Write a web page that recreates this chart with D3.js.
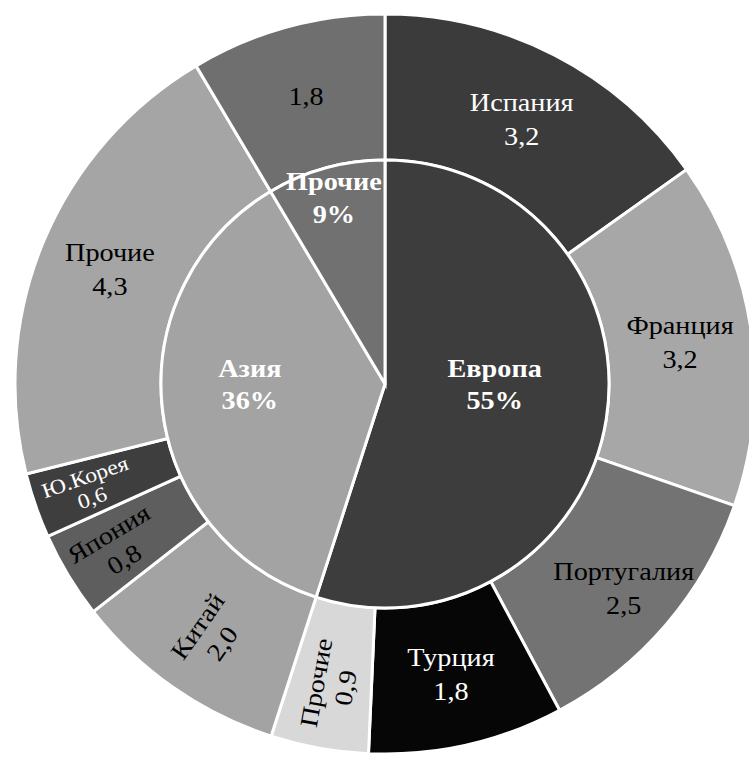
<!DOCTYPE html>
<html>
<head>
<meta charset="utf-8">
<script src="https://cdn.jsdelivr.net/npm/d3@7"></script>
<style>
  html, body { margin: 0; padding: 0; background: #ffffff; }
  svg { display: block; }
</style>
</head>
<body>
<svg id="chart" width="749" height="758"></svg>
<script>
// Regions (inner ring) and the countries that make them up (outer ring)
const regions = ["Европа", "Азия", "Прочие"];
const regionColors = ["#3d3d3d", "#a3a3a3", "#717171"];

const countries = ["Испания", "Франция", "Португалия", "Турция", "Прочие",
                   "Китай", "Япония", "Ю.Корея", "Прочие", ""];
const countryRegion = ["Европа", "Европа", "Европа", "Европа", "Европа",
                       "Азия", "Азия", "Азия", "Азия", "Прочие"];
const countryValues = [3.2, 3.2, 2.5, 1.8, 0.9, 2.0, 0.8, 0.6, 4.3, 1.8];
const countryColors = ["#3b3b3b", "#a7a7a7", "#737373", "#060606", "#d8d8d8",
                       "#a3a3a3", "#5e5e5e", "#3e3e3e", "#a5a5a5", "#6f6f6f"];

const width = 749, height = 758;
const cx = 385, cy = 384;
const rInner = 224, rOuter = 370;
const font = "Liberation Serif";
const stretch = 1.13;   // labels are set in a slightly widened face

const svg = d3.select("#chart");
const g = svg.append("g").attr("transform", `translate(${cx},${cy})`);

const regionTotals = regions.map(r =>
  d3.sum(countryValues.filter((v, i) => countryRegion[i] === r)));
const grandTotal = d3.sum(regionTotals);

const pie = d3.pie().sort(null).value(d => d.value).startAngle(0).endAngle(2 * Math.PI);

const innerData = pie(regions.map((name, i) => ({
  name, value: regionTotals[i], color: regionColors[i]
})));
const outerData = pie(countries.map((name, i) => ({
  name, value: countryValues[i], color: countryColors[i]
})));

const arcInner = d3.arc().innerRadius(0).outerRadius(rInner);
const arcOuter = d3.arc().innerRadius(rInner).outerRadius(rOuter);

g.selectAll("path.outer").data(outerData).join("path")
  .attr("class", "outer")
  .attr("d", arcOuter)
  .attr("fill", d => d.data.color)
  .attr("stroke", "#ffffff")
  .attr("stroke-width", 3);

g.selectAll("path.inner").data(innerData).join("path")
  .attr("class", "inner")
  .attr("d", arcInner)
  .attr("fill", d => d.data.color)
  .attr("stroke", "#ffffff")
  .attr("stroke-width", 3);

const fmt = v => v.toFixed(1).replace(".", ",");
const lum = c => d3.hsl(c).l;

// Two-line (or one-line) label centred on the point (x, y)
function label(lines, x, y, opts) {
  const lh = opts.size * (opts.lh || 1.3);
  const t = g.append("text")
    .attr("transform", `translate(${x},${y}) rotate(${opts.rotate || 0}) scale(${stretch},1)`)
    .attr("text-anchor", "middle")
    .attr("font-family", font)
    .attr("font-size", opts.size)
    .attr("font-weight", opts.weight || "normal")
    .attr("fill", opts.fill);
  lines.forEach((s, i) => {
    t.append("tspan")
      .attr("x", 0)
      .attr("y", (i - (lines.length - 1) / 2) * lh)
      .attr("dy", "0.35em")
      .text(s);
  });
}
const polar = (a, r) => [r * Math.sin(a), -r * Math.cos(a)];

// Outer ring labels: narrow slices in the lower-left quarter run along the radius
outerData.forEach(d => {
  const a = (d.startAngle + d.endAngle) / 2;
  const span = d.endAngle - d.startAngle;
  const deg = a * 180 / Math.PI;
  const radial = span < 0.62 && deg > 180 && deg < 270;
  const rot = radial ? Math.atan2(Math.cos(a), -Math.sin(a)) * 180 / Math.PI : 0;
  const lines = d.data.name ? [d.data.name, fmt(d.data.value)] : [fmt(d.data.value)];
  const tiny = span < 0.2;
  const r = radial ? (span < 0.25 ? 314 : 306) : (deg > 110 && deg < 150 ? 314 : 298);
  const [x, y] = polar(a, r);
  label(lines, x, y, {
    size: tiny ? 21 : 25,
    lh: tiny ? 1.05 : (radial ? 1.2 : 1.35),
    rotate: rot,
    fill: lum(d.data.color) < 0.3 ? "#ffffff" : "#000000"
  });
});

// Inner ring labels: region name and its share of the total.
// Slices that straddle the horizontal axis keep their label on that axis.
innerData.forEach(d => {
  const a = (d.startAngle + d.endAngle) / 2;
  const share = d.data.value / grandTotal;
  const pct = Math.round(share * 100) + "%";
  const straddles = d.startAngle < Math.PI / 2 && d.endAngle > Math.PI / 2 ||
                    d.startAngle < 1.5 * Math.PI && d.endAngle > 1.5 * Math.PI;
  const r = share > 0.5 ? 111 : share > 0.2 ? 136 : 193;
  const [x, y] = polar(a, r);
  label([d.data.name, pct], x, straddles ? 0 : y, {
    size: 25, lh: 1.3, weight: "bold", fill: "#ffffff"
  });
});
</script>
</body>
</html>
